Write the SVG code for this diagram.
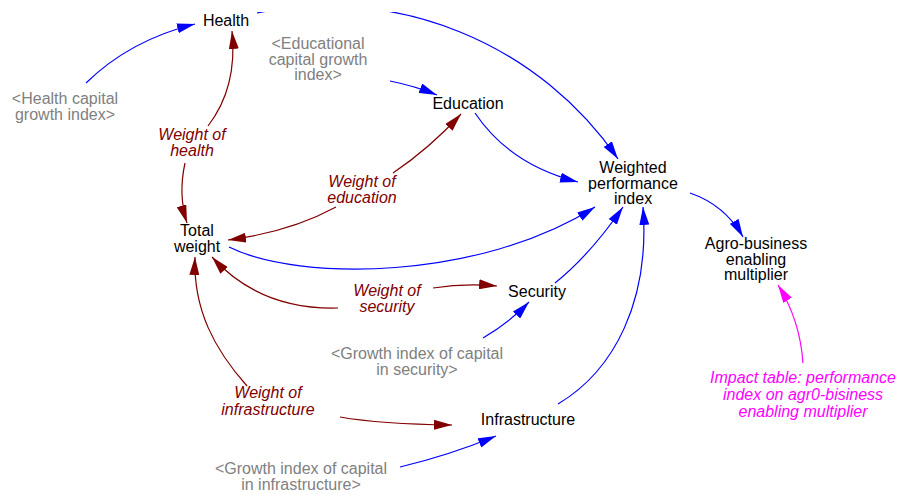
<svg xmlns="http://www.w3.org/2000/svg" width="901" height="495" viewBox="0 0 901 495">
<style>
text{font-family:"Liberation Sans",Arial,sans-serif;font-size:16px;text-anchor:middle}
.n{fill:#000}
.g{fill:#808080}
.w{fill:#800000;font-style:italic}
.m{fill:#ff00ff;font-style:italic}
.b{fill:none;stroke:#0000ff;stroke-width:1.2;marker-end:url(#ab)}
.r{fill:none;stroke:#800000;stroke-width:1.2;marker-end:url(#ar)}
.p{fill:none;stroke:#ff00ff;stroke-width:1.2;marker-end:url(#ap)}
</style>
<defs>
<marker id="ab" viewBox="0 0 18 10" refX="18" refY="5" markerWidth="18" markerHeight="10" markerUnits="userSpaceOnUse" orient="auto"><path d="M0,0 L18,5 L0,10 z" fill="#0000ff"/></marker>
<marker id="ar" viewBox="0 0 18 10" refX="18" refY="5" markerWidth="18" markerHeight="10" markerUnits="userSpaceOnUse" orient="auto"><path d="M0,0 L18,5 L0,10 z" fill="#800000"/></marker>
<marker id="ap" viewBox="0 0 18 10" refX="18" refY="5" markerWidth="18" markerHeight="10" markerUnits="userSpaceOnUse" orient="auto"><path d="M0,0 L18,5 L0,10 z" fill="#ff00ff"/></marker>
<clipPath id="top"><rect x="0" y="12" width="901" height="483"/></clipPath>
</defs>
<rect width="901" height="495" fill="#fff"/>
<g id="connectors">
<path class="b" d="M86,83 Q130,40 195,24"/>
<path class="b" clip-path="url(#top)" d="M257,13 A352.8,352.8 0 0 1 618,159"/>
<path class="b" d="M390,81 Q415,86 437,95"/>
<path class="b" d="M475,113 Q510,165 578,182"/>
<path class="b" d="M690,193 Q725,205 743,237"/>
<path class="b" d="M229,247 C300,282 480,280 595,207"/>
<path class="b" d="M555,283 Q590,255 623,207"/>
<path class="b" d="M558,404 C615,370 650,300 643,207"/>
<path class="b" d="M483,338 Q510,322 529,302"/>
<path class="b" d="M400,467 Q450,455 496,436"/>
<path class="p" d="M803,363 Q800,320 778,285"/>
<path class="r" d="M208,126 C228,100 236,70 232,31"/>
<path class="r" d="M185,163 Q178,195 187,223"/>
<path class="r" d="M336,207 Q290,232 228,240"/>
<path class="r" d="M393,173 Q430,148 461,114"/>
<path class="r" d="M338,308 Q260,310 212,257"/>
<path class="r" d="M433,288 Q465,283 497,286"/>
<path class="r" d="M247,386 C215,350 193,310 195,257"/>
<path class="r" d="M340,417 Q380,424 452,425"/>
</g>
<g id="health"><text class="n" x="226" y="26">Health</text></g>
<g id="health-capital-growth-index"><text class="g" x="65" y="104">&lt;Health capital</text><text class="g" x="65" y="120">growth index&gt;</text></g>
<g id="educational-capital-growth-index"><text class="g" x="318" y="49">&lt;Educational</text><text class="g" x="318" y="64.5">capital growth</text><text class="g" x="318" y="80">index&gt;</text></g>
<g id="education"><text class="n" x="468" y="109">Education</text></g>
<g id="weighted-performance-index"><text class="n" x="633" y="173">Weighted</text><text class="n" x="633" y="188.5">performance</text><text class="n" x="633" y="204">index</text></g>
<g id="agro-business-enabling-multiplier"><text class="n" x="756" y="249">Agro-business</text><text class="n" x="756" y="264.5">enabling</text><text class="n" x="756" y="280">multiplier</text></g>
<g id="total-weight"><text class="n" x="197" y="236">Total</text><text class="n" x="197" y="252">weight</text></g>
<g id="weight-of-health"><text class="w" x="192" y="140">Weight of</text><text class="w" x="192" y="156">health</text></g>
<g id="weight-of-education"><text class="w" x="362" y="187">Weight of</text><text class="w" x="362" y="203">education</text></g>
<g id="weight-of-security"><text class="w" x="387" y="296">Weight of</text><text class="w" x="387" y="312">security</text></g>
<g id="security"><text class="n" x="537" y="297">Security</text></g>
<g id="growth-index-security"><text class="g" x="417" y="359">&lt;Growth index of capital</text><text class="g" x="417" y="375">in security&gt;</text></g>
<g id="weight-of-infrastructure"><text class="w" x="268" y="398">Weight of</text><text class="w" x="268" y="414.5">infrastructure</text></g>
<g id="infrastructure"><text class="n" x="528" y="425">Infrastructure</text></g>
<g id="growth-index-infrastructure"><text class="g" x="301" y="474">&lt;Growth index of capital</text><text class="g" x="301" y="490">in infrastructure&gt;</text></g>
<g id="impact-table"><text class="m" x="803" y="383">Impact table: performance</text><text class="m" x="803" y="400">index on agr0-bisiness</text><text class="m" x="803" y="417">enabling multiplier</text></g>
</svg>
